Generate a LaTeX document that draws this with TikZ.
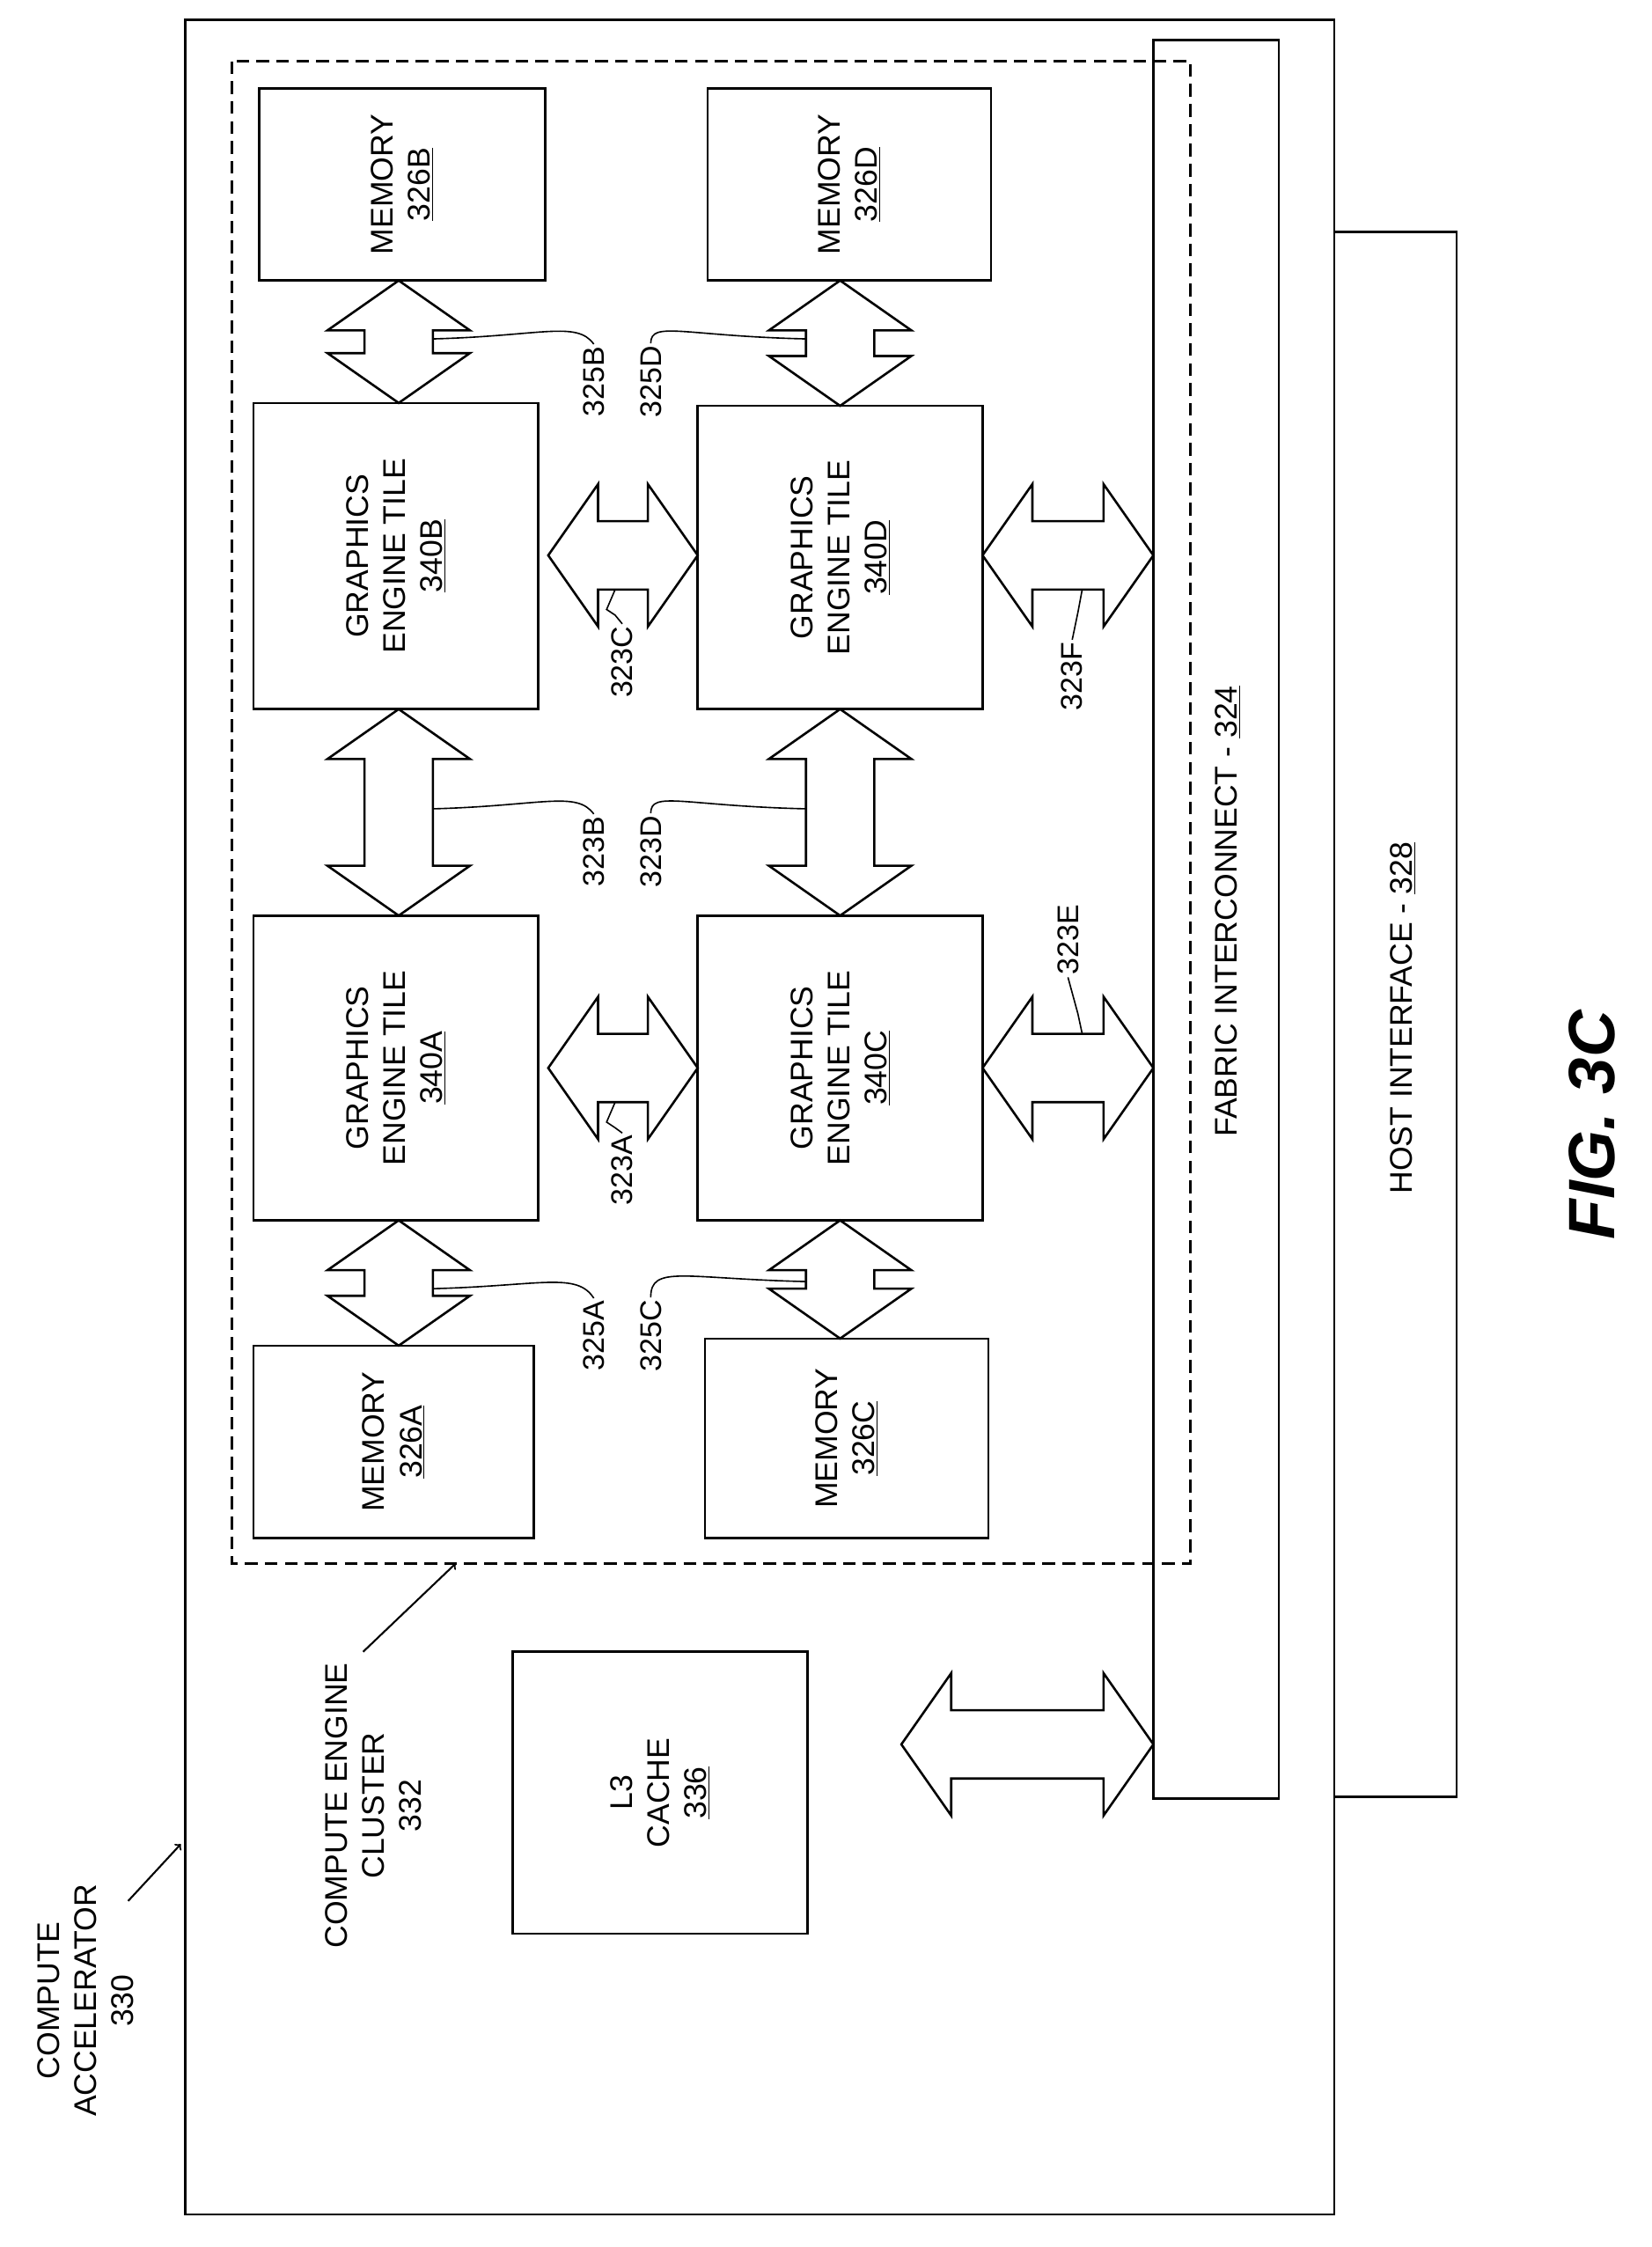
\documentclass[tikz,border=0pt]{standalone}
\usepackage{fontspec}
\setmainfont{Liberation Sans}
\begin{document}
\begin{tikzpicture}[x=1pt,y=-1pt,line width=1.6pt,
 box/.style={draw,fill=white},
 lbl/.style={rotate=90,font=\fontsize{22}{26}\selectfont,align=center},
 rl/.style={rotate=90,font=\fontsize{21}{24}\selectfont,inner sep=1pt}]
\useasboundingbox (0,0) rectangle (1160,1578);
\newcommand\vda[3]{% cx, y1, y2
 \draw[fill=white,line join=miter] (#1,#2) -- (#1+50,#2+35) -- (#1+24,#2+35) -- (#1+24,#3-35) -- (#1+50,#3-35) -- (#1,#3) -- (#1-50,#3-35) -- (#1-24,#3-35) -- (#1-24,#2+35) -- (#1-50,#2+35) -- cycle;}
\newcommand\hda[3]{% cy, x1, x2
 \draw[fill=white,line join=miter] (#2,#1) -- (#2+35,#1-50) -- (#2+35,#1-24) -- (#3-35,#1-24) -- (#3-35,#1-50) -- (#3,#1) -- (#3-35,#1+50) -- (#3-35,#1+24) -- (#2+35,#1+24) -- (#2+35,#1+50) -- cycle;}
% outer
\draw (937,163) -- (1023,163) -- (1023,1262) -- (937,1262);
\node[lbl] (hi) at (985,715) {HOST INTERFACE - \underline{328}};
\draw (130,14) rectangle (937,1555);
\draw[box] (810,28) rectangle (898,1263);
\node[lbl] (fi) at (862,640) {FABRIC INTERCONNECT - \underline{324}};
\draw[dash pattern=on 9pt off 5pt] (163,43) rectangle (836,1098);
% memories
\draw (182,62) rectangle (383,197) node[lbl,midway] (m2b) {MEMORY\\\underline{326B}};
\draw (497,62) rectangle (696,197) node[lbl,midway] (m2d) {MEMORY\\\underline{326D}};
\draw (178,945) rectangle (375,1080) node[lbl,midway] (m2a) {MEMORY\\\underline{326A}};
\draw (495,940) rectangle (694,1080) node[lbl,midway] (m2c) {MEMORY\\\underline{326C}};
% tiles
\draw (178,283) rectangle (378,498) node[lbl,midway] (tb) {GRAPHICS\\ENGINE TILE\\\underline{340B}};
\draw (490,285) rectangle (690,498) node[lbl,midway] (td) {GRAPHICS\\ENGINE TILE\\\underline{340D}};
\draw (178,643) rectangle (378,857) node[lbl,midway] (ta) {GRAPHICS\\ENGINE TILE\\\underline{340A}};
\draw (490,643) rectangle (690,857) node[lbl,midway] (tc) {GRAPHICS\\ENGINE TILE\\\underline{340C}};
\draw (360,1160) rectangle (567,1358) node[lbl,midway] (l3) {L3\\CACHE\\\underline{336}};
% arrows
\vda{280}{197}{283} \vda{280}{498}{643} \vda{280}{857}{945}
\vda{590}{197}{285} \vda{590}{498}{643} \vda{590}{857}{940}
\hda{390}{385}{490} \hda{750}{385}{490}
\hda{390}{690}{810} \hda{750}{690}{810}
\hda{1225}{633}{810}
% labels
\node[rl] (l325b) at (417,268) {325B};
\node[rl] (l325d) at (457,268) {325D};
\draw[line width=1pt] (304,238) .. controls (380,236) and (405,225) .. (l325b.east);
\draw[line width=1pt] (566,238) .. controls (480,236) and (457,225) .. (l325d.east);
\node[rl] (l323c) at (437,465) {323C};
\draw[line width=1pt] (l323c.east) -- (432,432) -- (426,428) -- (432,414);
\node[rl] (l323b) at (417,598) {323B};
\node[rl] (l323d) at (457,598) {323D};
\draw[line width=1pt] (304,568) .. controls (380,566) and (405,555) .. (l323b.east);
\draw[line width=1pt] (566,568) .. controls (480,566) and (457,555) .. (l323d.east);
\node[rl] (l323a) at (437,822) {323A};
\draw[line width=1pt] (l323a.east) -- (432,792) -- (426,788) -- (432,774);
\node[rl] (l325a) at (417,938) {325A};
\node[rl] (l325c) at (457,938) {325C};
\draw[line width=1pt] (304,905) .. controls (380,903) and (405,893) .. (l325a.east);
\draw[line width=1pt] (566,900) .. controls (480,898) and (457,888) .. (l325c.east);
\node[rl] (l323e) at (750,660) {323E};
\draw[line width=1pt] (l323e.west) -- (757,712) -- (760,726);
\node[rl] (l323f) at (753,475) {323F};
\draw[line width=1pt] (l323f.east) -- (757,430) -- (760,414);
% cluster / accelerator
\node[lbl] (cec) at (262,1268) {COMPUTE ENGINE\\CLUSTER\\332};
\draw[->,line width=1.3pt] (255,1160) -- (320,1098);
\node[lbl] (ca) at (60,1405) {COMPUTE\\ACCELERATOR\\330};
\draw[->,line width=1.3pt] (90,1335) -- (127,1295);
\node[rotate=90,font=\fontsize{46}{50}\selectfont\bfseries\itshape] (fig) at (1118,790) {FIG. 3C};
\end{tikzpicture}
\end{document}
